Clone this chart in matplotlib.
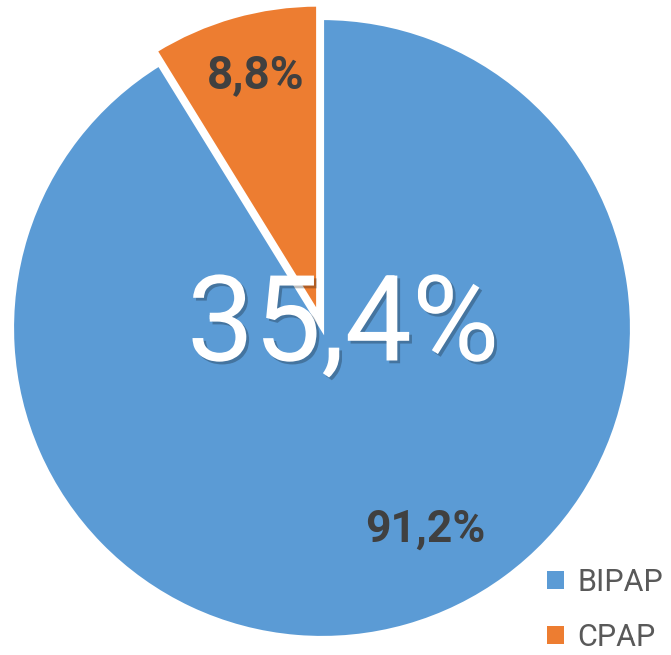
import matplotlib
matplotlib.use("Agg")
import matplotlib.pyplot as plt
import matplotlib.patheffects as pe

# data
labels = ["CPAP", "BIPAP"]
values = [8.8, 91.2]
colors = ["#ED7D31", "#5B9BD5"]
center_txt = "35,4%"

fig = plt.figure(figsize=(6.71, 6.55), dpi=100)
W, H = 671, 655
cx, cy, r = 322, 328, 310
ax = fig.add_axes([(cx - r) / W, (H - cy - r) / H, 2 * r / W, 2 * r / H])

wedges, texts, autotexts = ax.pie(
    values, colors=colors, startangle=90, counterclock=True,
    explode=[0.045, 0], radius=1,
    wedgeprops=dict(edgecolor="white", linewidth=3),
    autopct=lambda p: f"{p:.1f}%".replace(".", ","),
    pctdistance=0.8,
    textprops=dict(color="#404040", fontsize=33, fontweight="bold", family="Roboto"))
ax.set_xlim(-1, 1)
ax.set_ylim(-1, 1)
ax.set_aspect("equal")
for w in wedges:
    w.set_clip_on(False)

# move value labels to where they sit in the reference
autotexts[0].set_position((-0.215, 0.815))
autotexts[1].set_position((0.333, -0.652))
autotexts[1].set_fontsize(32)

ax.text(0.068, 0.0, center_txt, color="white", fontsize=86, family="Roboto",
        ha="center", va="center",
        path_effects=[pe.withSimplePatchShadow(offset=(2, -2), alpha=0.25, shadow_rgbFace="black")])

leg = fig.legend([wedges[1], wedges[0]], ["BIPAP", "CPAP"],
                 loc="center left", bbox_to_anchor=(547 / W, 1 - 610 / H),
                 borderpad=0, borderaxespad=0,
                 frameon=False, prop=dict(family="Roboto", size=22),
                 labelcolor="#595959", handlelength=0.55, handleheight=0.55,
                 handletextpad=0.45, labelspacing=0.85)
for h in leg.legend_handles:
    h.set_edgecolor("none")
    h.set_linewidth(0)

fig.savefig("out.png", dpi=100)
